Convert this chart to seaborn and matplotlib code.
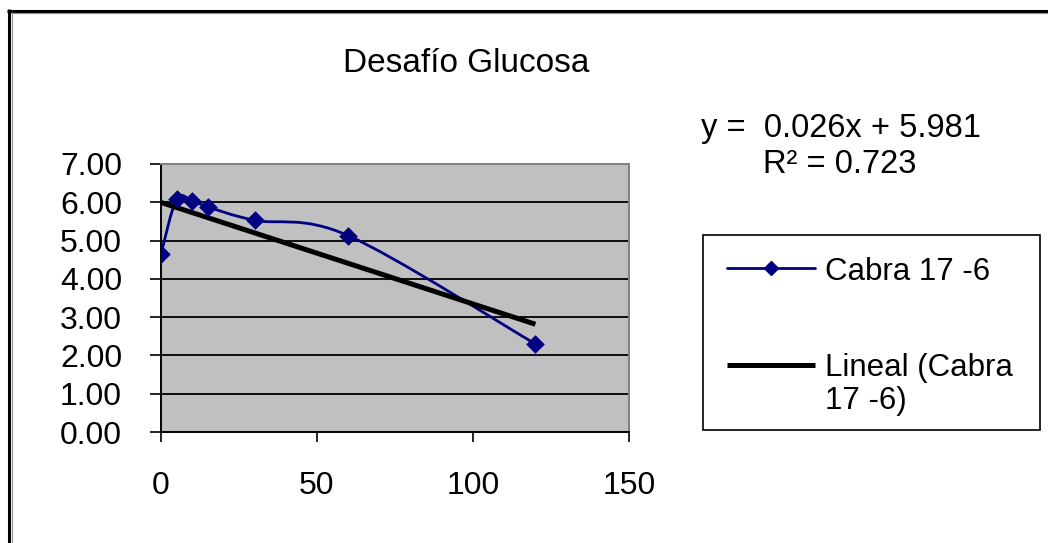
import numpy as np
import matplotlib
matplotlib.use('Agg')
import matplotlib.pyplot as plt
import seaborn as sns
from matplotlib.path import Path
from matplotlib.patches import PathPatch, Rectangle
from matplotlib.lines import Line2D

# Datos
tiempo = [0, 5, 10, 15, 30, 60, 120]
glucosa = [4.65, 6.08, 6.04, 5.88, 5.53, 5.13, 2.30]
serie = 'Cabra 17 -6'
etiqueta_tendencia = 'Lineal (Cabra\n17 -6)'
ecuacion = ['y =  0.026x + 5.981', 'R² = 0.723']
titulo = 'Desafío Glucosa'
y_ticks = [0, 1, 2, 3, 4, 5, 6, 7]
x_ticks = [0, 50, 100, 150]

AZUL = '#000080'
GRIS = '#c0c0c0'

sns.set_theme(style='white')
plt.rcParams['font.family'] = ['Liberation Sans', 'DejaVu Sans']
plt.rcParams['text.color'] = 'black'

W, H = 1048, 543
fig = plt.figure(figsize=(W / 100, H / 100), dpi=100)
fig.patch.set_facecolor('white')
ax = fig.add_axes([161 / W, 1 - 432 / H, 468 / W, 268 / H])
ax.set_facecolor(GRIS)

# linea suavizada (curvas Bezier tipo Catmull-Rom por los puntos)
pts = np.column_stack([tiempo, glucosa]).astype(float)
n = len(pts)
verts = [pts[0]]
codes = [Path.MOVETO]
for i in range(n - 1):
    p0 = pts[max(i - 1, 0)]
    p1 = pts[i]
    p2 = pts[i + 1]
    p3 = pts[min(i + 2, n - 1)]
    verts += [p1 + (p2 - p0) / 6, p2 - (p3 - p1) / 6, p2]
    codes += [Path.CURVE4] * 3
ax.add_patch(PathPatch(Path(verts, codes), facecolor='none', edgecolor=AZUL, lw=2.0, zorder=2))

# linea de tendencia lineal
sns.regplot(x=np.array(tiempo), y=np.array(glucosa), ax=ax, scatter=False, ci=None,
            truncate=True, color='black',
            line_kws={'linewidth': 3.6, 'zorder': 3, 'solid_capstyle': 'butt'})

# marcadores
sns.scatterplot(x=tiempo, y=glucosa, ax=ax, marker='D', s=80, color=AZUL,
                edgecolor=AZUL, linewidth=0.5, zorder=4)

ax.set_xlim(0, 150)
ax.set_ylim(0, 7)
ax.set_xlabel('')
ax.set_ylabel('')
ax.set_yticks(y_ticks)
ax.set_yticklabels([f'{v:.2f}' for v in y_ticks])
ax.set_xticks(x_ticks)
ax.tick_params(axis='y', direction='out', length=8, width=1.2, pad=20, labelsize=23, colors='black', left=True)
ax.tick_params(axis='x', direction='out', length=7, width=1.2, pad=21, labelsize=23, colors='black', bottom=True)

ax.yaxis.grid(True, color='black', linewidth=1.3)
gl = ax.get_ygridlines()
gl[0].set_visible(False)
gl[-1].set_visible(False)

for lado in ['left', 'bottom']:
    ax.spines[lado].set_color('black')
    ax.spines[lado].set_linewidth(1.4)
for lado in ['top', 'right']:
    ax.spines[lado].set_color('#808080')
    ax.spines[lado].set_linewidth(1.4)

# titulo y ecuacion
fig.text(466.5 / W, 1 - 72 / H, titulo, ha='center', va='baseline', fontsize=24)
fig.text(841 / W, 1 - 137 / H, ecuacion[0], ha='center', va='baseline', fontsize=23.5)
fig.text(840 / W, 1 - 173 / H, ecuacion[1], ha='center', va='baseline', fontsize=23.5)

# leyenda
fig.add_artist(Rectangle((703 / W, 1 - 430 / H), 337 / W, 195 / H, transform=fig.transFigure,
                         fill=False, edgecolor='black', lw=1.2))
fig.add_artist(Line2D([727 / W, 815 / W], [1 - 268 / H] * 2, color=AZUL, lw=2.0))
fig.add_artist(Line2D([771 / W], [1 - 268 / H], color=AZUL, marker='D', ms=7.5, lw=0))
fig.text(825 / W, 1 - 280 / H, serie, ha='left', va='baseline', fontsize=22.5)
fig.add_artist(Line2D([727 / W, 815 / W], [1 - 365 / H] * 2, color='black', lw=3.6, solid_capstyle='butt'))
lineas = etiqueta_tendencia.split('\n')
fig.text(825 / W, 1 - 376 / H, lineas[0], ha='left', va='baseline', fontsize=22.5)
fig.text(825 / W, 1 - 409 / H, lineas[1], ha='left', va='baseline', fontsize=22.5)

# marco exterior
fig.add_artist(Line2D([7 / W, 1], [1 - 10.5 / H] * 2, color='black', lw=2.2, solid_capstyle='butt'))
fig.add_artist(Line2D([10 / W, 1], [1 - 12.5 / H] * 2, color='#909090', lw=0.8, solid_capstyle='butt'))
fig.add_artist(Line2D([8.5 / W] * 2, [0, 1 - 9 / H], color='black', lw=2.2, solid_capstyle='butt'))
fig.add_artist(Line2D([11.5 / W] * 2, [0, 1 - 12 / H], color='#909090', lw=0.8, solid_capstyle='butt'))

fig.savefig('out.png', dpi=100, facecolor='white')
